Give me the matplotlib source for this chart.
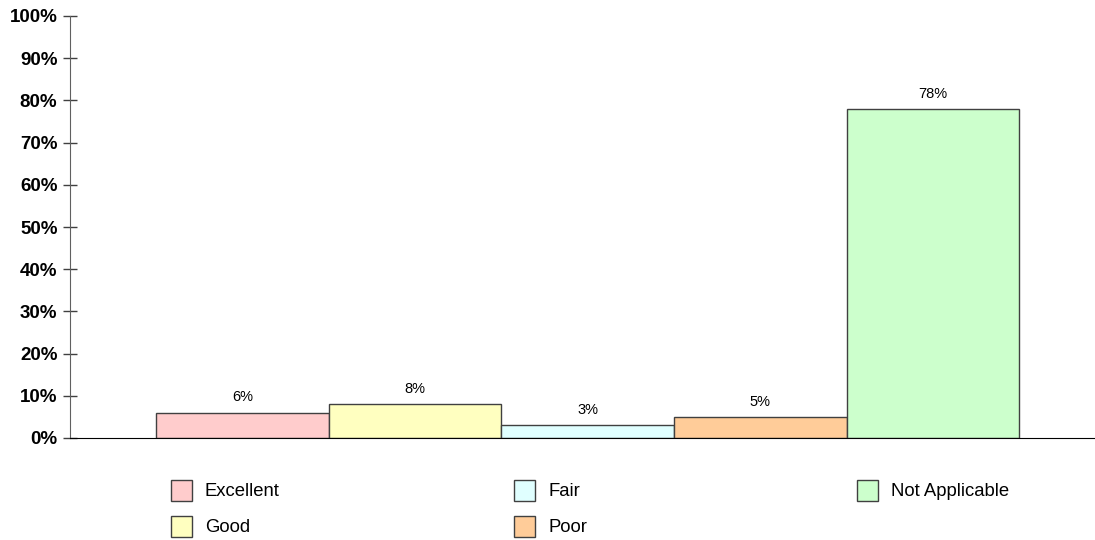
import matplotlib.pyplot as plt
from matplotlib.patches import Rectangle

plt.rcParams['font.family'] = ['Liberation Sans', 'DejaVu Sans']

# rating shares in percent
categories = ['Excellent', 'Good', 'Fair', 'Poor', 'Not Applicable']
values = [6, 8, 3, 5, 78]
colors = ['#FFCCCC', '#FFFFC0', '#E0FFFF', '#FFCC99', '#CCFFCC']
yticks = [0, 10, 20, 30, 40, 50, 60, 70, 80, 90, 100]

fig = plt.figure(figsize=(10.95, 5.4), dpi=100)
ax = fig.add_axes([70 / 1095, 1 - 438 / 540, 1 - 70 / 1095, 422 / 540])

xs = list(range(len(values)))
ax.bar(xs, values, width=1.0, color=colors, edgecolor='#404040', linewidth=1.0)

for x, v in zip(xs, values):
    ax.annotate(f'{v}%', (x, v), xytext=(0, 6), textcoords='offset points',
                ha='center', va='bottom', fontsize=10.5)

ax.set_xlim(-1, 4.94)
ax.set_ylim(0, 100)
ax.set_yticks(yticks)
ax.set_yticklabels([f'{t}%' for t in yticks], fontsize=13.5, fontweight='bold')
ax.set_xticks([])
ax.tick_params(axis='y', direction='inout', length=10, width=1, color='#404040', pad=4)

for s in ['top', 'right']:
    ax.spines[s].set_visible(False)
ax.spines['left'].set_color('#606060')
ax.spines['bottom'].set_color('black')
ax.spines['bottom'].set_zorder(3)

# legend laid out in three columns below the plot
cols_x = [171, 514, 857]
rows_y = [490, 526]
for i, (lab, col) in enumerate(zip(categories, colors)):
    lx = cols_x[i // 2]
    cy = rows_y[i % 2]
    fig.add_artist(Rectangle((lx / 1095, 1 - (cy + 10.5) / 540), 21 / 1095, 21 / 540,
                             transform=fig.transFigure, facecolor=col,
                             edgecolor='#404040', linewidth=1.0))
    fig.text((lx + 34) / 1095, 1 - (cy + 2) / 540, lab, fontsize=13.3,
             va='center', ha='left')

fig.savefig('out.png', dpi=100)
